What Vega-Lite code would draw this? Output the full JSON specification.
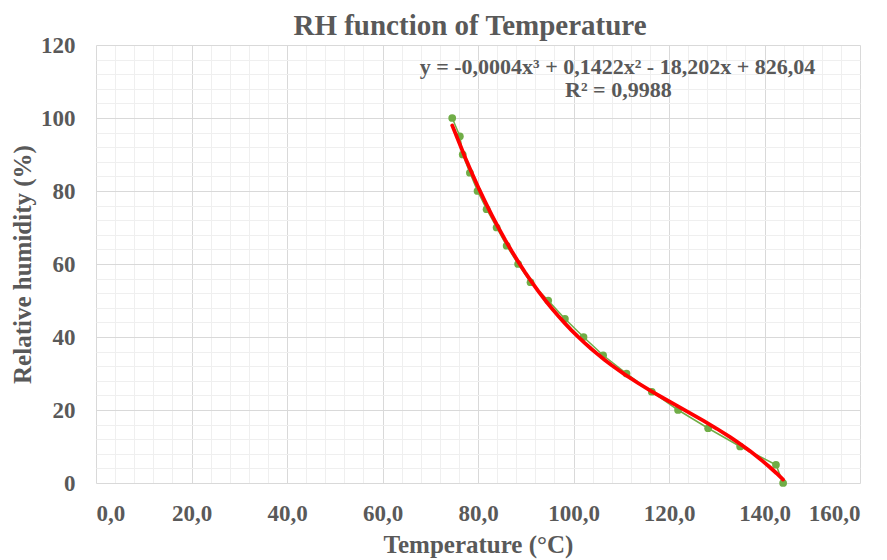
{
  "$schema": "https://vega.github.io/schema/vega-lite/v6.json",
  "autosize": {"type": "none"},
  "width": 764,
  "height": 438,
  "padding": {"left": 96, "top": 45, "right": 27, "bottom": 77},
  "background": "white",
  "title": {
    "text": "RH function of Temperature",
    "font": "Liberation Serif",
    "fontSize": 29,
    "fontWeight": "bold",
    "color": "#595959",
    "anchor": "middle",
    "baseline": "alphabetic",
    "offset": -30,
    "dx": -8
  },
  "config": {
    "view": {"stroke": null},
    "axis": {
      "labelFont": "Liberation Serif",
      "labelFontWeight": "bold",
      "labelFontSize": 23,
      "labelColor": "#595959",
      "titleFont": "Liberation Serif",
      "titleFontWeight": "bold",
      "titleFontSize": 25,
      "titleColor": "#595959",
      "domain": false,
      "ticks": false,
      "labelOverlap": false,
      "gridWidth": 1
    }
  },
  "encoding": {
    "x": {
      "field": "T",
      "type": "quantitative",
      "scale": {"domain": [0, 160], "nice": false, "zero": false},
      "axis": {
        "title": "Temperature (°C)",
        "values": [0,4,8,12,16,20,24,28,32,36,40,44,48,52,56,60,64,68,72,76,80,84,88,92,96,100,104,108,112,116,120,124,128,132,136,140,144,148,152,156,160],
        "labelExpr": "datum.value % 20 === 0 ? replace(format(datum.value, '.1f'), '.', ',') : ''",
        "gridColor": {"condition": {"test": "datum.value % 20 === 0", "value": "#d9d9d9"}, "value": "#efefef"},
        "labelPadding": 19,
        "titleBaseline": "alphabetic",
        "titleY": 69
      }
    },
    "y": {
      "field": "RH",
      "type": "quantitative",
      "scale": {"domain": [0, 120], "nice": false},
      "axis": {
        "title": "Relative humidity (%)",
        "values": [0,4,8,12,16,20,24,28,32,36,40,44,48,52,56,60,64,68,72,76,80,84,88,92,96,100,104,108,112,116,120],
        "labelExpr": "datum.value % 20 === 0 ? datum.label : ''",
        "gridColor": {"condition": {"test": "datum.value % 20 === 0", "value": "#d9d9d9"}, "value": "#efefef"},
        "labelPadding": 21,
        "titleBaseline": "alphabetic",
        "titleX": -66
      }
    }
  },
  "layer": [
    {
      "data": {"values": [
        {"T": 74.6, "RH": 100},
        {"T": 76.2, "RH": 95},
        {"T": 76.8, "RH": 90},
        {"T": 78.3, "RH": 85},
        {"T": 79.9, "RH": 80},
        {"T": 81.8, "RH": 75},
        {"T": 83.9, "RH": 70},
        {"T": 86.0, "RH": 65},
        {"T": 88.4, "RH": 60},
        {"T": 91.0, "RH": 55},
        {"T": 94.7, "RH": 50},
        {"T": 98.2, "RH": 45},
        {"T": 102.1, "RH": 40},
        {"T": 106.2, "RH": 35},
        {"T": 111.1, "RH": 30},
        {"T": 116.4, "RH": 25},
        {"T": 121.9, "RH": 20},
        {"T": 128.2, "RH": 15},
        {"T": 134.9, "RH": 10},
        {"T": 142.4, "RH": 5},
        {"T": 143.9, "RH": 0}
      ]},
      "layer": [
        {"mark": {"type": "line", "color": "#70ad47", "strokeWidth": 1.5}},
        {"mark": {"type": "point", "filled": true, "color": "#70ad47", "size": 60, "opacity": 1}},
        {
          "transform": [{"regression": "RH", "on": "T", "method": "poly", "order": 3}],
          "mark": {"type": "line", "color": "#ff0000", "strokeWidth": 3.8, "strokeCap": "round"}
        }
      ]
    },
    {
      "data": {"values": [
        {"label": "y = -0,0004x³ + 0,1422x² - 18,202x + 826,04", "T": 109.2, "RH": 114.0},
        {"label": "R² = 0,9988", "T": 109.4, "RH": 107.7}
      ]},
      "mark": {"type": "text", "font": "Liberation Serif", "fontWeight": "bold", "fontSize": 22, "color": "#595959", "align": "center", "baseline": "middle"},
      "encoding": {
        "text": {"field": "label"}
      }
    }
  ]
}
